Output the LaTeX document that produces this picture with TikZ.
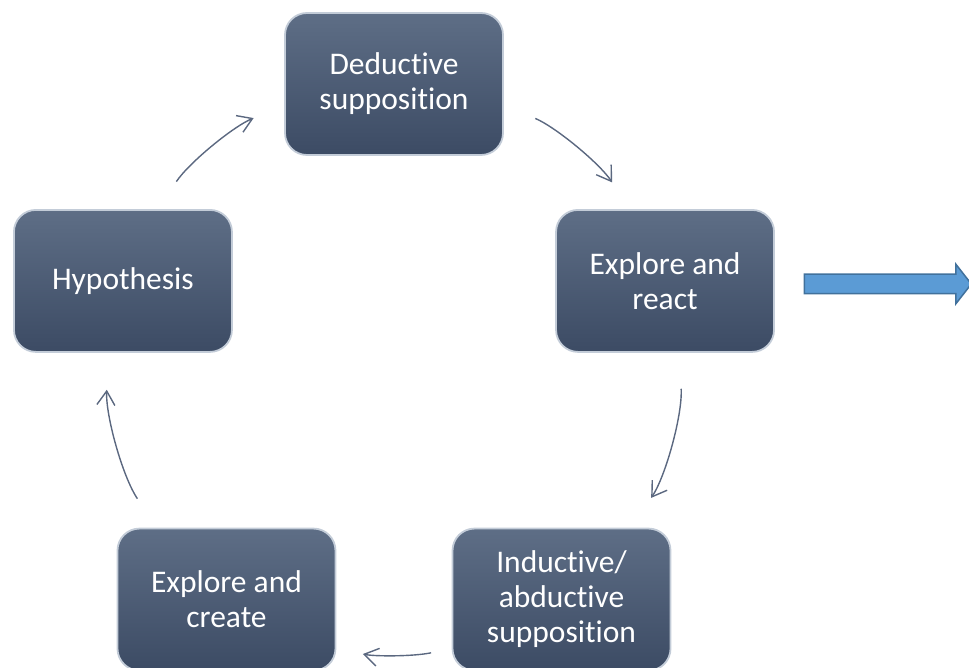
\documentclass[tikz,border=0pt]{standalone}
\usepackage{fontspec}
\setmainfont{Carlito}[Ligatures=NoCommon]
\usetikzlibrary{arrows.meta,shapes.arrows}

\definecolor{slatetop}{HTML}{5E6E86}
\definecolor{slatebot}{HTML}{3C4B64}
\definecolor{slaterim}{HTML}{C3CCD8}
\definecolor{linkgray}{HTML}{5B6880}
\definecolor{flowfill}{HTML}{5B9BD5}
\definecolor{flowrim}{HTML}{41719C}

\begin{document}
\begin{tikzpicture}[x=1pt,y=1pt,>={Straight Barb[length=14pt,width=18pt]},
      stage/.style={rectangle,rounded corners=22pt,minimum width=218pt,minimum height=142pt,
        top color=slatetop,bottom color=slatebot,draw=slaterim,line width=1.8pt,
        text=white,align=center,inner sep=0pt,font=\fontsize{31.5}{35}\selectfont},
      link/.style={->,draw=linkgray,line width=1.4pt,looseness=.87}]
    \useasboundingbox (0,0) rectangle (969,668);
    \coordinate (hub) at (394,299);
			% the five stages sit on one circle round the hub
			\node[stage] (deduct) at ([shift={(90:285)}]hub) {Deductive\\supposition};
			\node[stage] (react) at ([shift={(18:285)}]hub) {Explore and\\react};
			\node[stage] (induct) at ([shift={(-54:285)}]hub) {Inductive/\\abductive\\supposition};
			\node[stage] (create) at ([shift={(-126:285)}]hub) {Explore and\\create};
			\node[stage] (hypo) at ([shift={(162:285)}]hub) {Hypothesis};
			\node[single arrow,draw=flowrim,fill=flowfill,line width=1.5pt,minimum height=167pt,
        single arrow head extend=10pt,single arrow tip angle=104,
        single arrow head indent=0pt,inner xsep=0pt,inner ysep=9pt] (outflow) at (884,384) {};
			\path
				(hypo.64) edge[link,bend left=16.8,shorten <=33pt,shorten >=33pt] (deduct.191)
				(deduct.349) edge[link,bend left=16.8,shorten <=34pt,shorten >=32pt] (react.116)
				(react.281) edge[link,bend left=18.75,shorten <=36pt,shorten >=36pt] (induct.46)
				(induct.204) edge[link,bend left=11.85,shorten <=21pt,shorten >=27pt] (create.336)
				(create.134) edge[link,bend left=18.75,shorten <=35pt,shorten >=37pt] (hypo.259);
		\end{tikzpicture}
\end{document}
